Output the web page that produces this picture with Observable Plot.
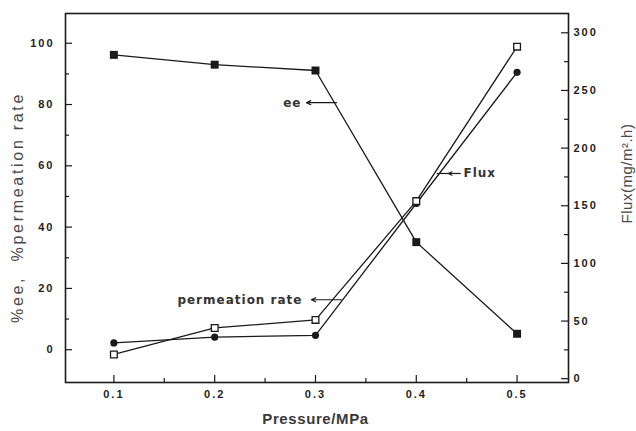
<!DOCTYPE html>
<html><head><meta charset="utf-8">
<script src="https://cdn.jsdelivr.net/npm/d3@7"></script>
<script src="https://cdn.jsdelivr.net/npm/@observablehq/plot@0.6"></script>
<style>
body{margin:0;background:#fff}
#chart g[aria-label$="tick label"] text { letter-spacing: 2px; }
</style>
</head><body><div id="chart"></div>
<script>
const pressure = [0.1, 0.2, 0.3, 0.4, 0.5];
const ee = [96.2, 93.0, 91.1, 35.1, 5.2];            // left axis, filled squares
const permeationRate = [2.2, 4.1, 4.7, 47.7, 90.5];  // left axis, filled circles
const flux = [21, 44, 51, 154, 288];                 // right axis, open squares
const leftTicks = [0, 20, 40, 60, 80, 100];
const leftMinor = [10, 30, 50, 70, 90];
const rightTicks = [0, 50, 100, 150, 200, 250, 300];
const rightMinor = [25, 75, 125, 175, 225, 275];
const xTicks = [0.1, 0.2, 0.3, 0.4, 0.5];
const xMinor = [0.15, 0.25, 0.35, 0.45];
const annLabels = ["ee", "Flux", "permeation rate"];
const annX = [0.2861, 0.4468, 0.2871];
const annY = [80.3, 57.5, 16.1];
const annAnchor = ["end", "start", "end"];
const arrowX1 = [0.3208, 0.4437, 0.3257];
const arrowX2 = [0.2910, 0.4318, 0.2959];
const arrowY = [80.6, 57.5, 16.3];
const fluxRuleX1 = [0.4208];
const fluxRuleX2 = [0.4437];
const leftTitle = "%ee,  %permeation rate";
const rightTitle = "Flux(mg/m\u00B2.h)";
const xTitle = "Pressure/MPa";

const toLeft = r => -9.46 + 0.3762 * r;
const fromLeft = l => (l + 9.46) / 0.3762;

const W = 636, H = 431, mL = 65, mR = 68, mT = 13, mB = 49;
const innerW = W - mL - mR, innerH = H - mT - mB;

const eeData = pressure.map((p, i) => ({p, v: ee[i]}));
const prData = pressure.map((p, i) => ({p, v: permeationRate[i]}));
const fxData = pressure.map((p, i) => ({p, v: toLeft(flux[i])}));
const ann = annLabels.map((t, i) => ({t, x: annX[i], y: annY[i], a: annAnchor[i]}));
const arrows = arrowX1.map((x1, i) => ({x1, x2: arrowX2[i], y: arrowY[i]}));

const ink = "#1a1a1a";
const tickFont = {fontFamily: "Liberation Sans", fontSize: 11, fontWeight: "bold", fill: "#1e1e1e"};
const annFont = {fontFamily: "DejaVu Sans", fontSize: 12, fontWeight: "bold", fill: "#333"};

const chart = Plot.plot({
  width: W, height: H,
  marginLeft: mL, marginRight: mR, marginTop: mT, marginBottom: mB,
  style: {fontFamily: "Liberation Sans", background: "#fff"},
  x: {domain: [0.052, 0.551]},
  y: {domain: [-10.7, 109.7]},
  marks: [
    Plot.axisY(leftTicks, {anchor: "left", tickSize: 0, tickPadding: 11, label: null, ...tickFont}),
    Plot.axisY(rightTicks.map(toLeft), {anchor: "right", tickSize: 0, tickPadding: 5, label: null,
      tickFormat: d => Math.round(fromLeft(d)), ...tickFont}),
    Plot.axisX(xTicks, {anchor: "bottom", tickSize: 0, tickPadding: 8, label: null, tickFormat: d => d.toFixed(1), ...tickFont}),
    Plot.tickY(leftTicks, {y: d => d, insetRight: innerW - 7, stroke: ink, strokeWidth: 1.2}),
    Plot.tickY(leftMinor, {y: d => d, insetRight: innerW - 4, stroke: ink, strokeWidth: 1.2}),
    Plot.tickY(rightTicks.map(toLeft), {y: d => d, insetLeft: innerW - 7, stroke: ink, strokeWidth: 1.2}),
    Plot.tickY(rightMinor.map(toLeft), {y: d => d, insetLeft: innerW - 4, stroke: ink, strokeWidth: 1.2}),
    Plot.tickX(xTicks, {x: d => d, insetTop: innerH - 7, stroke: ink, strokeWidth: 1.2}),
    Plot.tickX(xMinor, {x: d => d, insetTop: innerH - 4, stroke: ink, strokeWidth: 1.2}),
    Plot.frame({stroke: ink, strokeWidth: 1.6}),
    Plot.text([leftTitle], {y: () => 46.4, frameAnchor: "left", textAnchor: "middle", dx: -48, rotate: -90,
      fontSize: 16, fill: "#4a4a4a", fontFamily: "Liberation Sans"}),
    Plot.text([rightTitle], {y: () => 57.5, frameAnchor: "right", textAnchor: "middle", dx: 59, rotate: -90,
      fontSize: 15, fill: "#4a4a4a", fontFamily: "Liberation Sans"}),
    Plot.text([xTitle], {x: () => 0.300, frameAnchor: "bottom", textAnchor: "middle", dy: 41,
      fontSize: 15, fill: "#3a3a3a", fontFamily: "Liberation Sans", fontWeight: "bold"}),
    Plot.line(eeData, {x: "p", y: "v", stroke: ink, strokeWidth: 1.3}),
    Plot.line(prData, {x: "p", y: "v", stroke: ink, strokeWidth: 1.3}),
    Plot.line(fxData, {x: "p", y: "v", stroke: ink, strokeWidth: 1.3}),
    Plot.dot(eeData, {x: "p", y: "v", symbol: "square", r: 4.5, fill: ink, stroke: "none"}),
    Plot.dot(prData, {x: "p", y: "v", symbol: "circle", r: 3.6, fill: ink, stroke: "none"}),
    Plot.dot(fxData, {x: "p", y: "v", symbol: "square", r: 3.8, fill: "white", stroke: ink, strokeWidth: 1.3}),
    Plot.ruleY(fluxRuleX1.map((x1, i) => ({x1, x2: fluxRuleX2[i], y: annY[1]})), {x1: "x1", x2: "x2", y: "y", stroke: ink, strokeWidth: 1.2}),
    Plot.arrow(arrows, {x1: "x1", x2: "x2", y1: "y", y2: "y", stroke: ink, strokeWidth: 1.2, headLength: 6, headAngle: 50}),
    Plot.text(ann, {x: "x", y: "y", text: "t", textAnchor: "end", filter: d => d.a === "end", ...annFont}),
    Plot.text(ann, {x: "x", y: "y", text: "t", textAnchor: "start", filter: d => d.a === "start", ...annFont})
  ]
});
// letter spacing of titles and annotations, to match the reference widths
const spacing = new Map([[leftTitle, "2.7px"], [rightTitle, "0.5px"], [xTitle, "0.6px"]]);
d3.select(chart).selectAll("text").each(function() {
  const t = this.textContent;
  if (spacing.has(t)) d3.select(this).style("letter-spacing", spacing.get(t));
  if (annLabels.includes(t)) d3.select(this).style("letter-spacing", "1px");
});
document.getElementById("chart").appendChild(chart);
</script>
</body></html>
